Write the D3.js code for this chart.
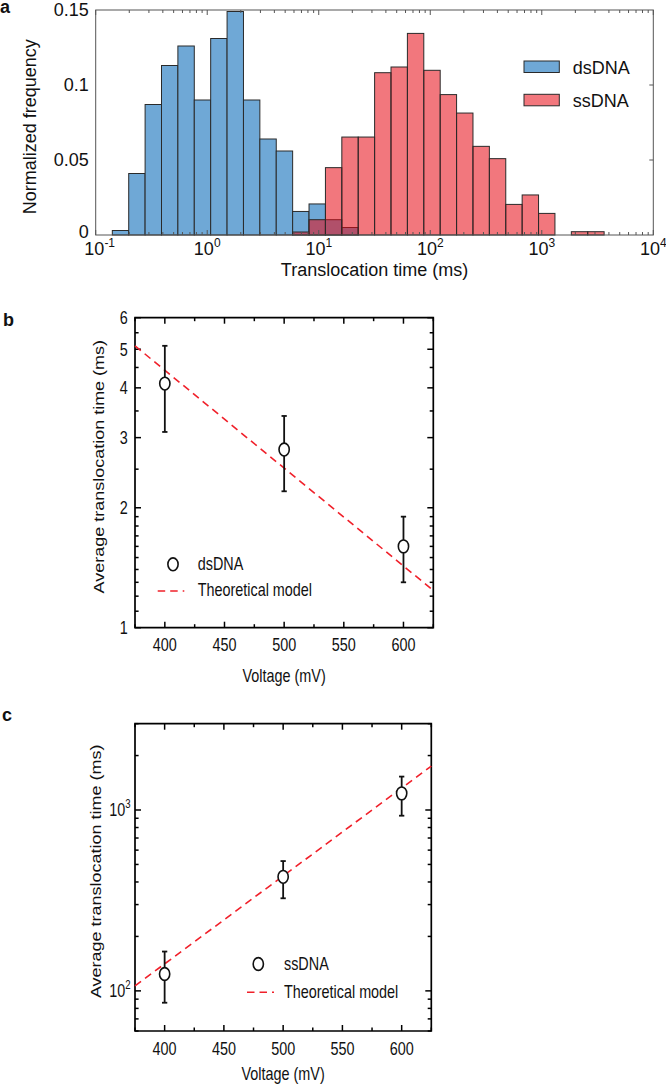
<!DOCTYPE html>
<html><head><meta charset="utf-8">
<script src="https://cdn.jsdelivr.net/npm/d3@7"></script>
<style>
body{margin:0;background:#fff}
text{font-family:Arial,"Liberation Sans",Helvetica,sans-serif;fill:#111}
</style>
</head><body>
<svg id="chart" width="666" height="1085" xmlns="http://www.w3.org/2000/svg"></svg>
<script>
// ---------------- DATA ----------------
// panel a: histogram bins (log10 of translocation time in ms, bin edges)
const binEdgesLog = [-0.851,-0.704,-0.557,-0.410,-0.263,-0.116,0.031,0.178,0.325,0.472,0.619,0.766,0.913,1.060,1.207,1.354,1.501,1.648,1.795,1.942,2.089,2.236,2.383,2.530,2.677,2.824,2.971,3.118,3.265,3.412,3.559];
const dsDNAFreq = [0.003,0.041,0.087,0.113,0.126,0.090,0.131,0.149,0.090,0.064,0.056,0.0157,0.0207,0.0102,0.005,0,0,0,0,0,0,0,0,0,0,0,0,0,0,0];
const ssDNAFreq = [0,0,0,0,0,0,0,0,0,0,0,0.002,0.0102,0.0449,0.0653,0.0653,0.1082,0.112,0.1344,0.1098,0.0936,0.0813,0.0591,0.0509,0.0204,0.0267,0.0144,0,0.0022,0.0022];
const histSeries = ["dsDNA","ssDNA"];
const histYTicks = [0,0.05,0.1,0.15];
const histYTickLabels = ["0","0.05","0.1","0.15"];
const histXDecades = [-1,0,1,2,3,4];

// panel b: dsDNA
const voltages = [400,500,600];
const dsMean = [4.1,2.8,1.6];
const dsHi = [5.1,3.4,1.9];
const dsLo = [3.1,2.2,1.3];
const dsModelV = [375,625];
const dsModelT = [5.1,1.24];
const dsYTicks = [1,2,3,4,5,6];
const dsYMinor = [1.1,1.2,1.3,1.4,1.5,1.6,1.7,1.8,1.9,2.5,3.5,4.5,5.5];

// panel c: ssDNA
const ssMean = [124,427,1236];
const ssHi = [165,522,1530];
const ssLo = [86,325,930];
const ssModelV = [375,625];
const ssModelT = [106.6,1750];
const ssYTicks = [100,1000];
const ssYTickExp = ["2","3"];
const ssYMinor = [60,70,80,90,200,300,400,500,600,700,800,900,2000,3000];

const voltMajor = [400,450,500,550,600];
const voltMinor = [375,425,475,525,575,625];

// ---------------- DRAW ----------------
const svg = d3.select("#chart");
const FONT = 18;

// ===== Panel a =====
(function(){
  const L=95.7,R=653.3,T=10,B=235;
  const x = d3.scaleLog().domain([0.1,1e4]).range([L,R]);
  const y = d3.scaleLinear().domain([0,0.15]).range([B,T]);
  const g = svg.append("g");
  const bins = binEdgesLog.slice(0,-1).map((e,i)=>({x0:Math.pow(10,e),x1:Math.pow(10,binEdgesLog[i+1]),ds:dsDNAFreq[i],ss:ssDNAFreq[i]}));
  const blue="#6fa8d6", redPure="rgb(231,8,19)", redOpacity=0.55;
  g.selectAll(".bd").data(bins.filter(d=>d.ds>0)).join("rect")
    .attr("x",d=>x(d.x0)).attr("width",d=>x(d.x1)-x(d.x0))
    .attr("y",d=>y(d.ds)).attr("height",d=>y(0)-y(d.ds))
    .attr("fill",blue).attr("stroke","#2a2a2a").attr("stroke-width",1);
  g.selectAll(".bs").data(bins.filter(d=>d.ss>0)).join("rect")
    .attr("x",d=>x(d.x0)).attr("width",d=>x(d.x1)-x(d.x0))
    .attr("y",d=>y(d.ss)).attr("height",d=>y(0)-y(d.ss))
    .attr("fill",redPure).attr("fill-opacity",redOpacity).attr("stroke","#2a2a2a").attr("stroke-width",1);

  const ax="#555";
  const major = histXDecades.map(k=>Math.pow(10,k));
  const minor=[];
  histXDecades.slice(0,-1).forEach(k=>{for(let m=2;m<=9;m++)minor.push(m*Math.pow(10,k));});
  const tk = g.append("g").attr("stroke",ax).attr("stroke-width",1);
  major.forEach(v=>{
    tk.append("line").attr("x1",x(v)).attr("x2",x(v)).attr("y1",T).attr("y2",T+5);
    tk.append("line").attr("x1",x(v)).attr("x2",x(v)).attr("y1",B).attr("y2",B-5);
  });
  minor.forEach(v=>{
    tk.append("line").attr("x1",x(v)).attr("x2",x(v)).attr("y1",T).attr("y2",T+3);
    tk.append("line").attr("x1",x(v)).attr("x2",x(v)).attr("y1",B).attr("y2",B-3);
  });
  histYTicks.slice(1,-1).forEach(v=>{
    tk.append("line").attr("x1",R).attr("x2",R-4).attr("y1",y(v)).attr("y2",y(v));
  });
  g.append("rect").attr("x",L).attr("y",T).attr("width",R-L).attr("height",B-T)
    .attr("fill","none").attr("stroke",ax).attr("stroke-width",1);

  histYTicks.forEach((v,i)=>{
    g.append("text").attr("x",L-7).attr("y",y(v)).attr("dy",i===0?"0.18em":"0.36em")
      .attr("text-anchor","end").attr("font-size",FONT).text(histYTickLabels[i]);
  });
  histXDecades.forEach(k=>{
    const t=g.append("text").attr("x",x(Math.pow(10,k))+(k===-1?4:0)).attr("y",255)
      .attr("text-anchor","middle").attr("font-size",FONT);
    t.append("tspan").text("10");
    t.append("tspan").attr("font-size",12).attr("dy",-8).text(String(k));
  });
  g.append("text").attr("x",(L+R)/2).attr("y",276).attr("text-anchor","middle")
    .attr("font-size",FONT).text("Translocation time (ms)");
  g.append("text").attr("transform","translate(36,126.7) rotate(-90)")
    .attr("text-anchor","middle").attr("font-size",FONT).text("Normalized frequency");

  const lg = g.append("g");
  const ly=[61,94.3];
  histSeries.forEach((s,i)=>{
    lg.append("rect").attr("x",524).attr("y",ly[i]).attr("width",35.3).attr("height",11.5)
      .attr("fill",i===0?blue:redPure).attr("fill-opacity",i===0?1:redOpacity)
      .attr("stroke","#2a2a2a").attr("stroke-width",1);
    lg.append("text").attr("x",572.7).attr("y",ly[i]+12.8).attr("font-size",FONT).text(s);
  });
  svg.append("text").attr("x",0).attr("y",13).attr("font-size",18).attr("font-weight","bold").text("a");
})();

// ===== Panels b and c (horizontally compressed like the source figure) =====
const SX = 0.8;
function voltPanel(o){
  const g = svg.append("g").attr("transform",`scale(${SX},1)`);
  const L=o.L/SX, R=o.R/SX, T=o.T, B=o.B;
  const x = d3.scaleLinear().domain([375,625]).range([L,R]);
  const y = d3.scaleLog().domain(o.yDomain).range([B,T]);
  const nse = sel=>sel.attr("vector-effect","non-scaling-stroke");
  const tk = g.append("g").attr("stroke","#000").attr("stroke-width",1.5);
  voltMajor.forEach(v=>{
    nse(tk.append("line").attr("x1",x(v)).attr("x2",x(v)).attr("y1",T).attr("y2",T+6));
    nse(tk.append("line").attr("x1",x(v)).attr("x2",x(v)).attr("y1",B).attr("y2",B-6));
  });
  voltMinor.forEach(v=>{
    nse(tk.append("line").attr("x1",x(v)).attr("x2",x(v)).attr("y1",T).attr("y2",T+3.5));
    nse(tk.append("line").attr("x1",x(v)).attr("x2",x(v)).attr("y1",B).attr("y2",B-3.5));
  });
  o.yMajor.forEach(v=>{
    nse(tk.append("line").attr("x1",L).attr("x2",L+7.5).attr("y1",y(v)).attr("y2",y(v)));
    nse(tk.append("line").attr("x1",R).attr("x2",R-7.5).attr("y1",y(v)).attr("y2",y(v)));
  });
  o.yMinor.forEach(v=>{
    nse(tk.append("line").attr("x1",L).attr("x2",L+4.5).attr("y1",y(v)).attr("y2",y(v)));
    nse(tk.append("line").attr("x1",R).attr("x2",R-4.5).attr("y1",y(v)).attr("y2",y(v)));
  });
  nse(g.append("rect").attr("x",L).attr("y",T).attr("width",R-L).attr("height",B-T)
    .attr("fill","none").attr("stroke","#000").attr("stroke-width",1.7));

  const line = d3.line().x((d,i)=>x(o.modelV[i])).y(d=>y(d));
  nse(g.append("path").attr("d",line(o.modelT)).attr("fill","none")
    .attr("stroke","#f0202a").attr("stroke-width",1.6).attr("stroke-dasharray","7.5,5"));

  const eb = g.append("g").attr("stroke","#111").attr("stroke-width",1.8);
  voltages.forEach((v,i)=>{
    nse(eb.append("line").attr("x1",x(v)).attr("x2",x(v)).attr("y1",y(o.hi[i])).attr("y2",y(o.lo[i])));
    [o.hi[i],o.lo[i]].forEach(c=>nse(eb.append("line").attr("x1",x(v)-3.3).attr("x2",x(v)+3.3).attr("y1",y(c)).attr("y2",y(c))));
  });
  g.selectAll(".pt").data(o.mean).join("circle")
    .attr("cx",(d,i)=>x(voltages[i])).attr("cy",d=>y(d)).attr("r",6.4)
    .attr("fill","#fff").attr("stroke","#111").attr("stroke-width",1.6).attr("vector-effect","non-scaling-stroke");

  voltMajor.forEach(v=>{
    g.append("text").attr("x",x(v)).attr("y",o.xLabY).attr("text-anchor","middle").attr("font-size",FONT).text(v);
  });
  o.yMajor.forEach((v,i)=>{
    const t=g.append("text").attr("x",o.yLabX/SX).attr("y",y(v)).attr("dy","0.36em")
      .attr("text-anchor","end").attr("font-size",FONT);
    if(o.yExp){ t.append("tspan").text("10"); t.append("tspan").attr("font-size",12).attr("dy",-8).text(o.yExp[i]); }
    else t.text(v);
  });
  g.append("text").attr("x",x(500)).attr("y",o.xTitleY).attr("text-anchor","middle").attr("font-size",FONT).text("Voltage (mV)");
  g.append("text").attr("transform",`translate(${o.yTitleX/SX},${(T+B)/2-6}) rotate(-90)`)
    .attr("text-anchor","middle").attr("font-size",FONT).text("Average translocation time (ms)");

  nse(g.append("circle").attr("cx",o.legX/SX).attr("cy",o.legY1).attr("r",6.4)
    .attr("fill","#fff").attr("stroke","#111").attr("stroke-width",1.6));
  g.append("text").attr("x",o.legTX/SX).attr("y",o.legY1+6).attr("font-size",FONT).text(o.name);
  nse(g.append("line").attr("x1",o.legD0/SX).attr("x2",o.legD1/SX).attr("y1",o.legY2).attr("y2",o.legY2)
    .attr("stroke","#f0202a").attr("stroke-width",1.6).attr("stroke-dasharray","7.5,5"));
  g.append("text").attr("x",o.legTX/SX).attr("y",o.legY2+5.5).attr("font-size",FONT).text("Theoretical model");
}

voltPanel({L:135,R:433.3,T:317.7,B:627.7,yDomain:[1,6],yMajor:dsYTicks,yMinor:dsYMinor,
  mean:dsMean,hi:dsHi,lo:dsLo,modelV:dsModelV,modelT:dsModelT,name:"dsDNA",
  xLabY:651,yLabX:127.7,xTitleY:682,yTitleX:104.3,
  legX:173,legY1:564.3,legTX:197.7,legD0:157.7,legD1:184.3,legY2:591});
svg.append("text").attr("x",3).attr("y",326).attr("font-size",18).attr("font-weight","bold").text("b");

voltPanel({L:135,R:431.3,T:723.7,B:1031,yDomain:[60,3000],yMajor:ssYTicks,yExp:ssYTickExp,yMinor:ssYMinor,
  mean:ssMean,hi:ssHi,lo:ssLo,modelV:ssModelV,modelT:ssModelT,name:"ssDNA",
  xLabY:1055,yLabX:130.7,xTitleY:1080,yTitleX:101,
  legX:258.3,legY1:964,legTX:284,legD0:247,legD1:274,legY2:992.3});
svg.append("text").attr("x",2).attr("y",720.7).attr("font-size",18).attr("font-weight","bold").text("c");
</script>
</body></html>
